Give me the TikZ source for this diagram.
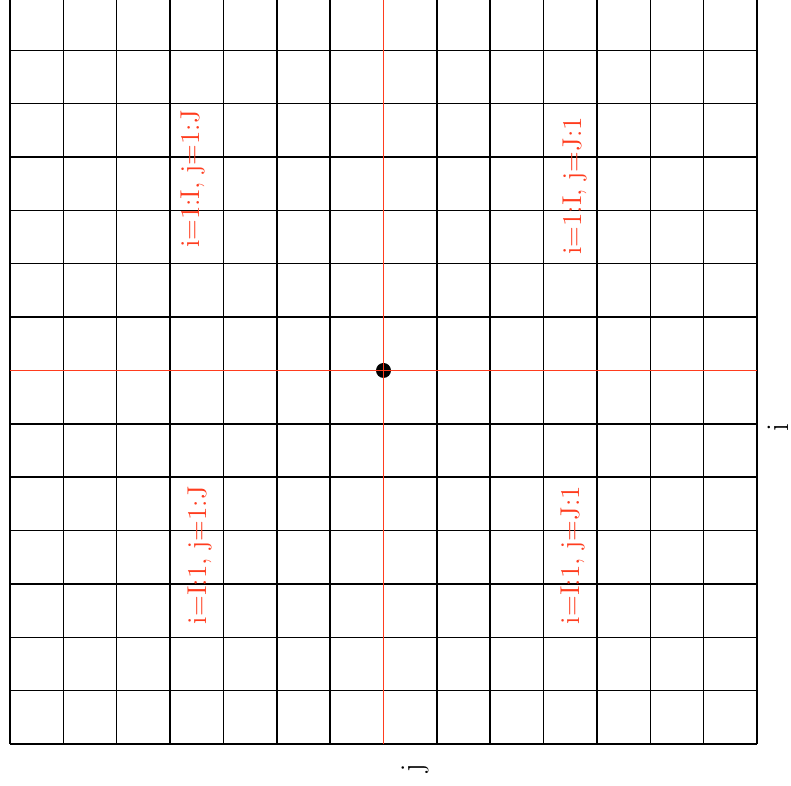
\documentclass[tikz,border=0pt]{standalone}
\usepackage{xcolor}
\usepackage{tikz}
\definecolor{cred}{RGB}{255,60,30}

\begin{document}
\begin{tikzpicture}[lbl/.style={text=cred,rotate=90,font=\fontsize{14.5}{17}\selectfont}, ax/.style={rotate=90,font=\fontsize{17}{20}\selectfont}, dot/.style={circle,fill=black,inner sep=0pt,minimum size=2.8mm}]
\useasboundingbox (-0.187,-0.787) rectangle (14.637,13.943);
\clip (-0.187,-0.787) rectangle (14.637,13.943);
\foreach \k in {0,...,6,8,9,...,14} {
  \draw[line width=0.8pt] (\k,0) -- (\k,14);
  \draw[line width=0.8pt] (0,\k) -- (14,\k);
}
\node[dot] (o) at (7,7) {};
\draw[cred,line width=0.9pt] (7,0) -- (7,14);
\draw[cred,line width=0.9pt] (0,7) -- (14,7);
\node[lbl] (q1) at (3.43,10.59) {i=1:I, j=1:J};
\node[lbl] (q2) at (10.59,10.46) {i=1:I, j=J:1};
\node[lbl] (q3) at (3.56,3.54) {i=I:1, j=1:J};
\node[lbl] (q4) at (10.55,3.54) {i=I:1, j=J:1};
\node[ax] (xi) at (14.39,5.94) {i};
\node[ax] (yj) at (7.59,-0.45) {j};
\end{tikzpicture}
\end{document}
